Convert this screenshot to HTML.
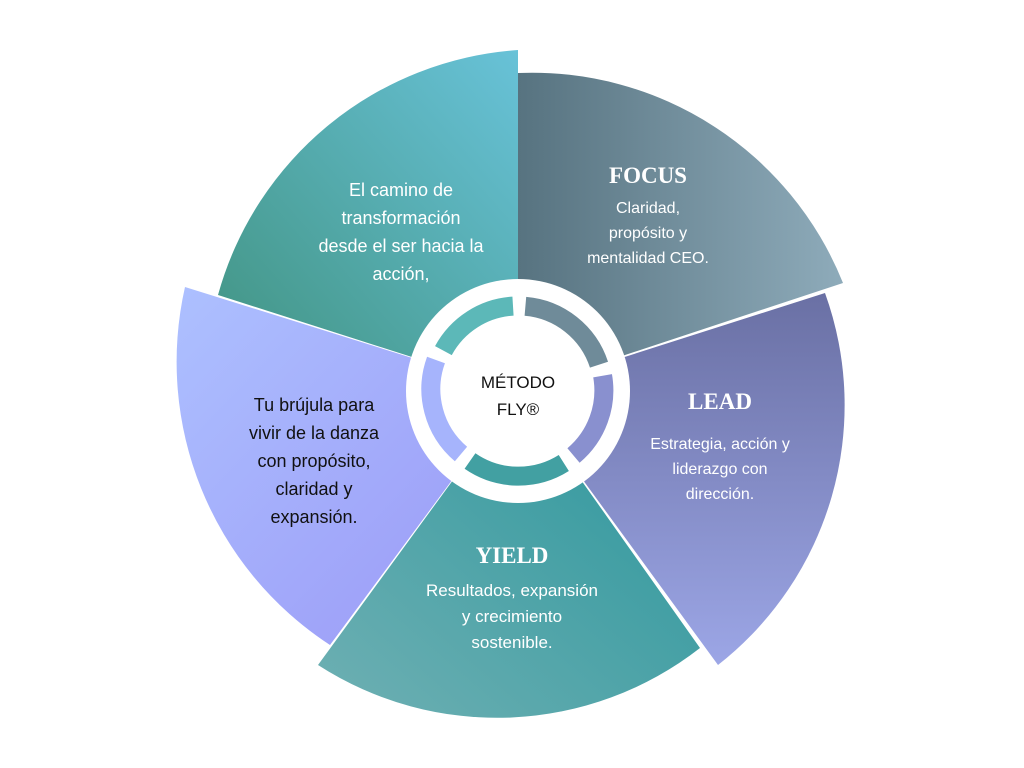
<!DOCTYPE html>
<html><head><meta charset="utf-8"><style>
html,body{margin:0;padding:0;background:#fff;width:1024px;height:768px;overflow:hidden}
svg{display:block}
.t{font-family:"Liberation Sans",sans-serif;text-anchor:middle}
.h{font-family:"Liberation Serif",serif;font-weight:bold;text-anchor:middle;fill:#fff;font-size:23px}
</style></head><body>
<svg width="1024" height="768" viewBox="0 0 1024 768">
<defs>
<linearGradient id="gT" x1="0" y1="1" x2="1" y2="0"><stop offset="0" stop-color="#40927f"/><stop offset="1" stop-color="#68c2d8"/></linearGradient>
<linearGradient id="gF" x1="0" y1="0" x2="1" y2="0"><stop offset="0" stop-color="#577380"/><stop offset="1" stop-color="#8eabba"/></linearGradient>
<linearGradient id="gL" x1="0" y1="0" x2="0" y2="1"><stop offset="0" stop-color="#6a70a4"/><stop offset="1" stop-color="#9ca6e6"/></linearGradient>
<linearGradient id="gY" x1="1" y1="0" x2="0" y2="1"><stop offset="0" stop-color="#2a969c"/><stop offset="1" stop-color="#6fb0b3"/></linearGradient>
<linearGradient id="gV" x1="0" y1="0" x2="1" y2="1"><stop offset="0" stop-color="#adc0ff"/><stop offset="1" stop-color="#9a98f6"/></linearGradient>
</defs>
<!-- wedges -->
<path d="M518 391 L185 287 A338 338 0 0 0 330 645 Z" fill="url(#gV)"/>
<path d="M518 391 L825 293 A330 330 0 0 1 718 665 Z" fill="url(#gL)"/>
<path d="M518 391 L700 648 A330 330 0 0 1 318 665 Z" fill="url(#gY)"/>
<path d="M518 391 L218 295 A335 335 0 0 1 518 50 Z" fill="url(#gT)"/>
<path d="M518 391 L518 73 A335 335 0 0 1 843 283 L625 355 Z" fill="url(#gF)"/>
<!-- center -->
<circle cx="518" cy="391" r="112" fill="#fff"/>
<g fill="none" stroke-width="19">
<path d="M443.4 350.6 A85 85 0 0 1 513 306.1" stroke="#5cb8b8"/>
<path d="M525.4 306.3 A85 85 0 0 1 599 364.7" stroke="#6f8b99"/>
<path d="M602.6 375.8 A85 85 0 0 1 573.5 455.5" stroke="#8990cf"/>
<path d="M563.8 463 A85 85 0 0 1 470 461" stroke="#42a0a2"/>
<path d="M461 454 A85 85 0 0 1 436 360" stroke="#a6b4fc"/>
</g>
<circle cx="518" cy="391" r="75" fill="#fff"/>
<text class="t" x="518" y="388" font-size="17" fill="#111">MÉTODO</text>
<text class="t" x="518" y="415" font-size="17" fill="#111">FLY®</text>
<!-- teal text -->
<g class="t" font-size="18" fill="#fff">
<text x="401" y="196">El camino de</text>
<text x="401" y="224">transformación</text>
<text x="401" y="252">desde el ser hacia la</text>
<text x="401" y="280">acción,</text>
</g>
<text class="h" x="648" y="183">FOCUS</text>
<g class="t" font-size="16" fill="#fff">
<text x="648" y="213">Claridad,</text>
<text x="648" y="238">propósito y</text>
<text x="648" y="263">mentalidad CEO.</text>
</g>
<text class="h" x="720" y="409">LEAD</text>
<g class="t" font-size="16" fill="#fff">
<text x="720" y="449">Estrategia, acción y</text>
<text x="720" y="474">liderazgo con</text>
<text x="720" y="499">dirección.</text>
</g>
<text class="h" x="512" y="563">YIELD</text>
<g class="t" font-size="17" fill="#fff">
<text x="512" y="596">Resultados, expansión</text>
<text x="512" y="622">y crecimiento</text>
<text x="512" y="648">sostenible.</text>
</g>
<g class="t" font-size="18" fill="#111">
<text x="314" y="411">Tu brújula para</text>
<text x="314" y="439">vivir de la danza</text>
<text x="314" y="467">con propósito,</text>
<text x="314" y="495">claridad y</text>
<text x="314" y="523">expansión.</text>
</g>
</svg>
</body></html>
